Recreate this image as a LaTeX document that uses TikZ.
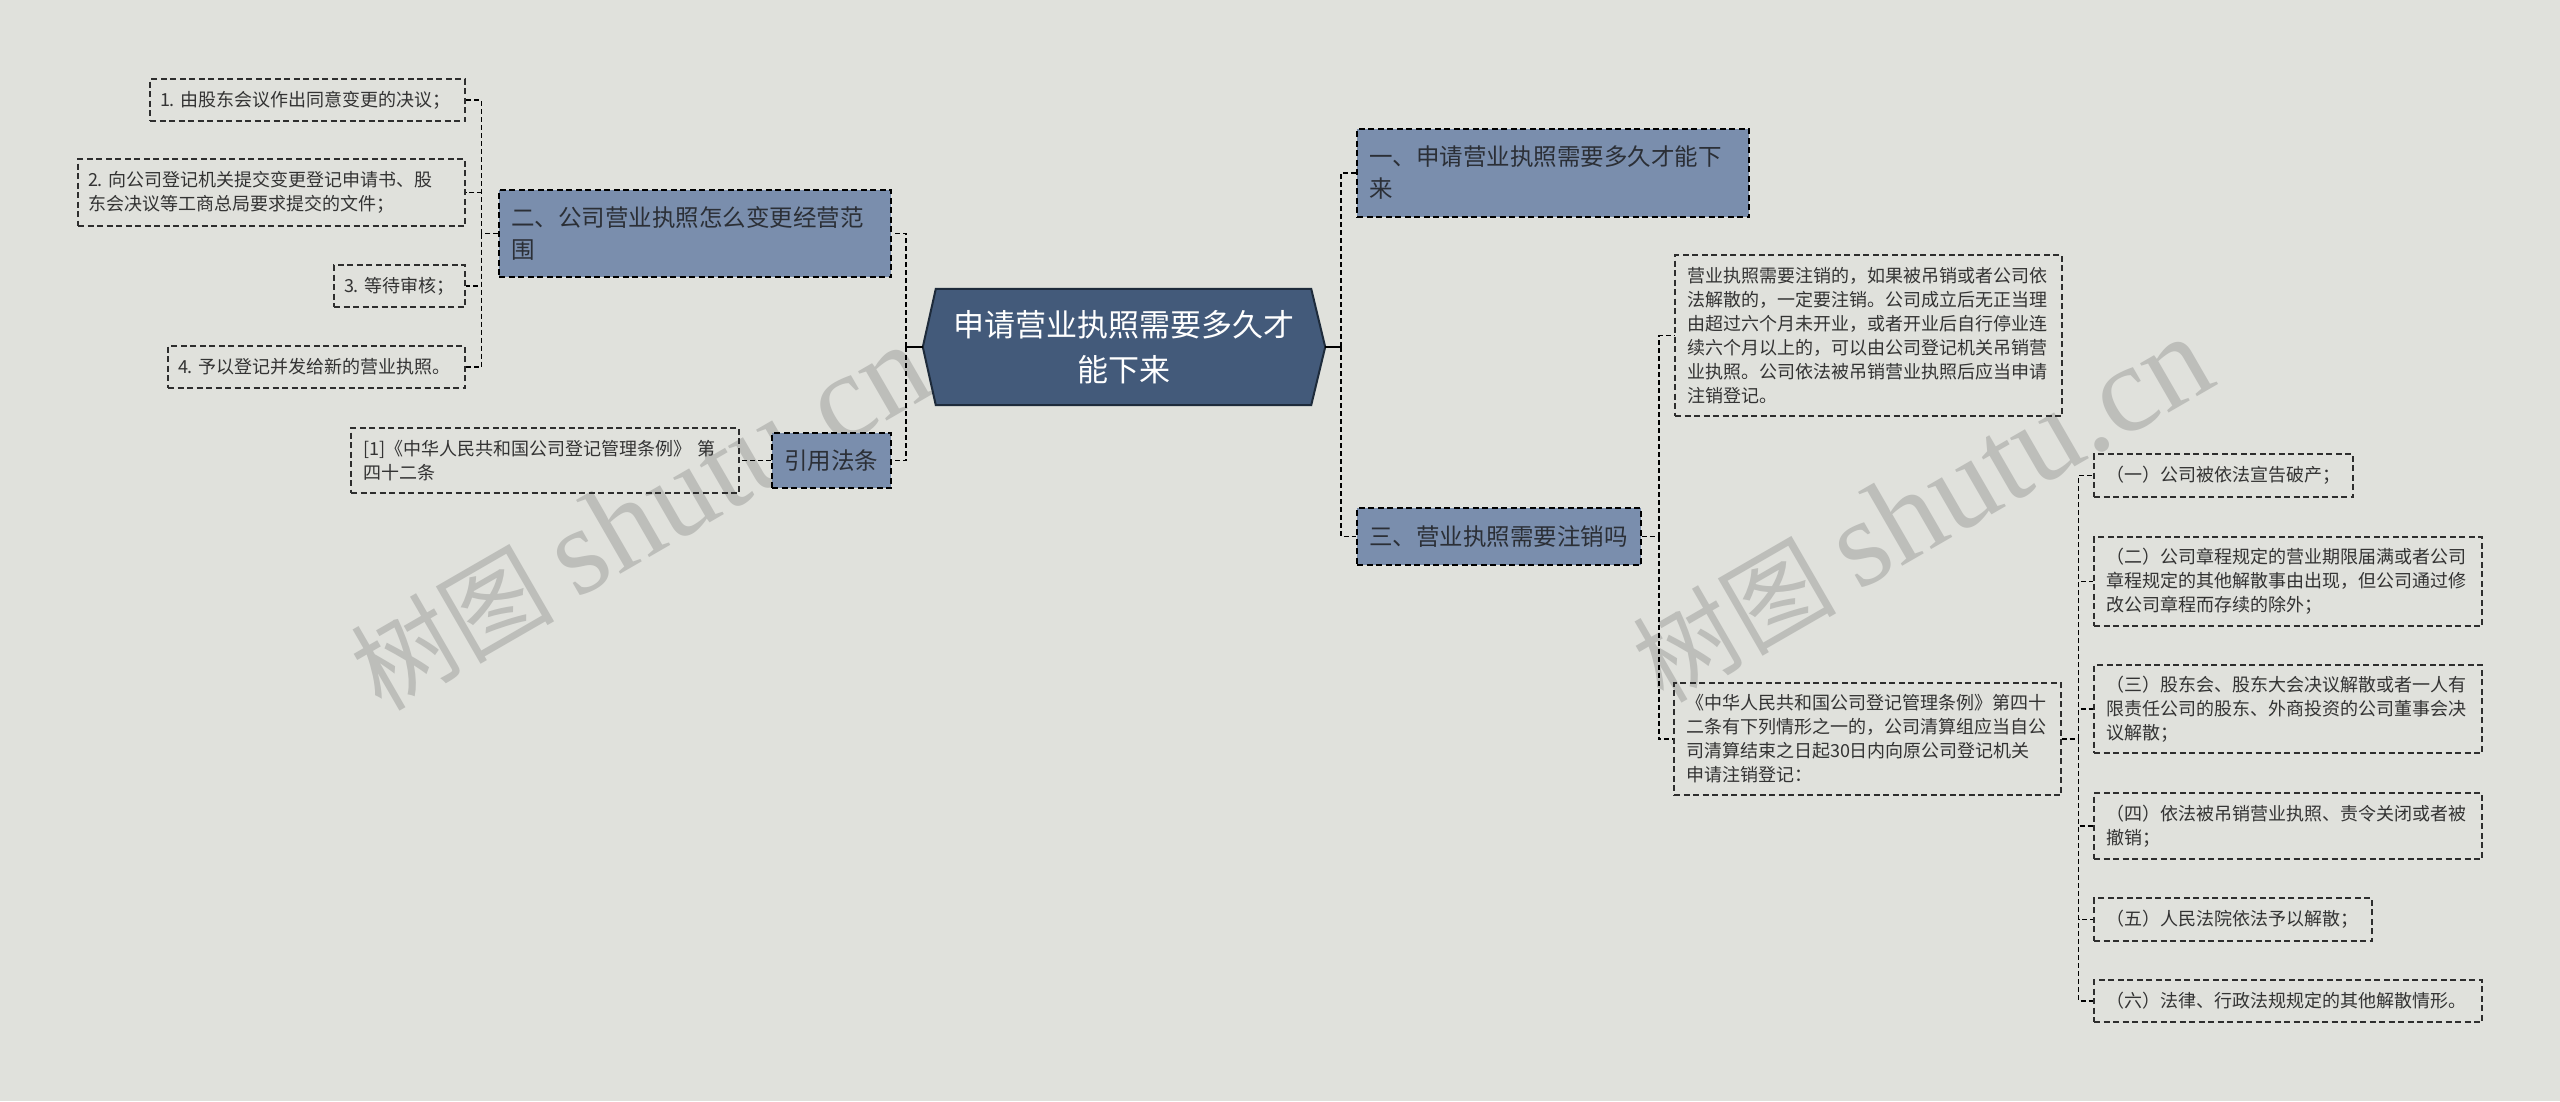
\documentclass[tikz,border=0pt]{standalone}
\usepackage{fontspec}
\setmainfont{Noto Sans CJK SC}
\newfontfamily\wmlatin{Liberation Serif}
\usetikzlibrary{backgrounds}
\definecolor{bgc}{HTML}{E0E1DC}
\definecolor{rootfill}{HTML}{435A7A}
\definecolor{rootline}{HTML}{1E2B3B}
\definecolor{brfill}{HTML}{7A8EAD}
\definecolor{brtxt}{HTML}{2B2F36}
\definecolor{leaftxt}{HTML}{333333}
\definecolor{leafline}{HTML}{2E2E2E}
\definecolor{wmc}{HTML}{BDBEBA}
\begin{document}
\begin{tikzpicture}[x=1pt,y=-1pt,
  leaf/.style={draw=leafline, dash pattern=on 6pt off 3.5pt, line width=1.3pt, text=leaftxt,
    font=\fontsize{18}{24}\selectfont, align=left, inner xsep=12pt, inner ysep=0pt},
  branch/.style={draw=black, fill=brfill, dash pattern=on 6pt off 3.5pt, line width=1.5pt, text=brtxt,
    font=\fontsize{23.5}{32}\selectfont, align=left, inner xsep=12pt, inner ysep=0pt},
  rootnode/.style={text=white, font=\fontsize{31}{45}\selectfont, align=center, inner sep=0pt},
  conn/.style={draw=black, dash pattern=on 5pt off 3pt, line width=1.5pt},
  stub/.style={draw=black, line width=2pt},
  wm/.style={text=wmc, rotate=30, inner sep=0pt}
]
\useasboundingbox (0,0) rectangle (2560,1101);

% root
\node[rootnode, minimum width=402pt, minimum height=116pt] (root) at (1124,347) {申请营业执照需要多久才\\能下来};

% left branches
\node[branch, text width=368pt, minimum height=87pt] (L1) at (695,233.5) {二、公司营业执照怎么变更经营范\\围};
\node[branch, text width=95pt, minimum height=55pt] (L2) at (831.5,460.5) {引用法条};

\node[leaf, inner xsep=10pt, text width=295pt, minimum height=42pt] (C1) at (307.5,100) {1.~由股东会议作出同意变更的决议；};
\node[leaf, inner xsep=10pt, text width=367pt, minimum height=67pt] (C2) at (271.5,192.5) {2.~向公司登记机关提交变更登记申请书、股\\东会决议等工商总局要求提交的文件；};
\node[leaf, inner xsep=10pt, text width=111pt, minimum height=42pt] (C3) at (399.5,286) {3.~等待审核；};
\node[leaf, inner xsep=10pt, text width=277pt, minimum height=42pt] (C4) at (316.5,367) {4.~予以登记并发给新的营业执照。};
\node[leaf, text width=364pt, minimum height=65pt] (C5) at (545,460.5) {[1]《中华人民共和国公司登记管理条例》~第\\四十二条};

% right branches
\node[branch, text width=368pt, minimum height=88pt] (R1) at (1553,173) {一、申请营业执照需要多久才能下\\来};
\node[branch, text width=260pt, minimum height=57pt] (R2) at (1499,536.5) {三、营业执照需要注销吗};

\node[leaf, text width=363pt, minimum height=161pt] (R2a) at (1868.5,335.5) {营业执照需要注销的，如果被吊销或者公司依\\法解散的，一定要注销。公司成立后无正当理\\由超过六个月未开业，或者开业后自行停业连\\续六个月以上的，可以由公司登记机关吊销营\\业执照。公司依法被吊销营业执照后应当申请\\注销登记。};
\node[leaf, text width=363pt, minimum height=112pt] (R2b) at (1867.5,739) {《中华人民共和国公司登记管理条例》第四十\\二条有下列情形之一的，公司清算组应当自公\\司清算结束之日起30日内向原公司登记机关\\申请注销登记：};

\node[leaf, text width=235pt, minimum height=43pt] (D1) at (2223.5,475.5) {（一）公司被依法宣告破产；};
\node[leaf, text width=364pt, minimum height=89pt] (D2) at (2288,581.5) {（二）公司章程规定的营业期限届满或者公司\\章程规定的其他解散事由出现，但公司通过修\\改公司章程而存续的除外；};
\node[leaf, text width=364pt, minimum height=88pt] (D3) at (2288,709) {（三）股东会、股东大会决议解散或者一人有\\限责任公司的股东、外商投资的公司董事会决\\议解散；};
\node[leaf, text width=364pt, minimum height=66pt] (D4) at (2288,826) {（四）依法被吊销营业执照、责令关闭或者被\\撤销；};
\node[leaf, text width=254pt, minimum height=43pt] (D5) at (2233,919.5) {（五）人民法院依法予以解散；};
\node[leaf, text width=364pt, minimum height=42pt] (D6) at (2288,1001) {（六）法律、行政法规规定的其他解散情形。};

% connectors
\coordinate (jL) at (906,347);
\coordinate (jR) at (1341,347);
\draw[stub] (root.west) -- (jL);
\draw[stub] (root.east) -- (jR);
\draw[conn] (jL) |- (L1.east);
\draw[conn] (jL) |- (L2.east);
\draw[conn] (jR) |- (R1.west);
\draw[conn] (jR) |- (R2.west);

\coordinate (jL1) at ([xshift=-17pt]L1.west);
\draw[conn] (L1.west) -- (jL1);
\foreach \n in {C1,C2,C3,C4} \draw[conn] (jL1) |- (\n.east);
\draw[conn] (L2.west) -- (C5.east);

\coordinate (jR2) at ([xshift=17pt]R2.east);
\draw[conn] (R2.east) -- (jR2);
\draw[conn] (jR2) |- (R2a.west);
\draw[conn] (jR2) |- (R2b.west);

\coordinate (jR2b) at ([xshift=17pt]R2b.east);
\draw[conn] (R2b.east) -- (jR2b);
\foreach \n in {D1,D2,D3,D4,D5,D6} \draw[conn] (jR2b) |- (\n.west);

\begin{scope}[on background layer]
\fill[bgc] (0,0) rectangle (2560,1101);
\node[wm] (wm1) at (640,518) {\fontsize{102}{102}\selectfont 树图\hspace{22pt}{\wmlatin\fontsize{124}{124}\selectfont shutu.cn}};
\node[wm] (wm2) at (1922,510) {\fontsize{102}{102}\selectfont 树图\hspace{22pt}{\wmlatin\fontsize{124}{124}\selectfont shutu.cn}};
\draw[fill=rootfill, draw=rootline, line width=2pt, line join=miter]
  (root.west) -- ([xshift=13pt]root.north west) -- ([xshift=-14pt]root.north east)
  -- (root.east) -- ([xshift=-14pt]root.south east) -- ([xshift=13pt]root.south west) -- cycle;
\end{scope}
\end{tikzpicture}
\end{document}
